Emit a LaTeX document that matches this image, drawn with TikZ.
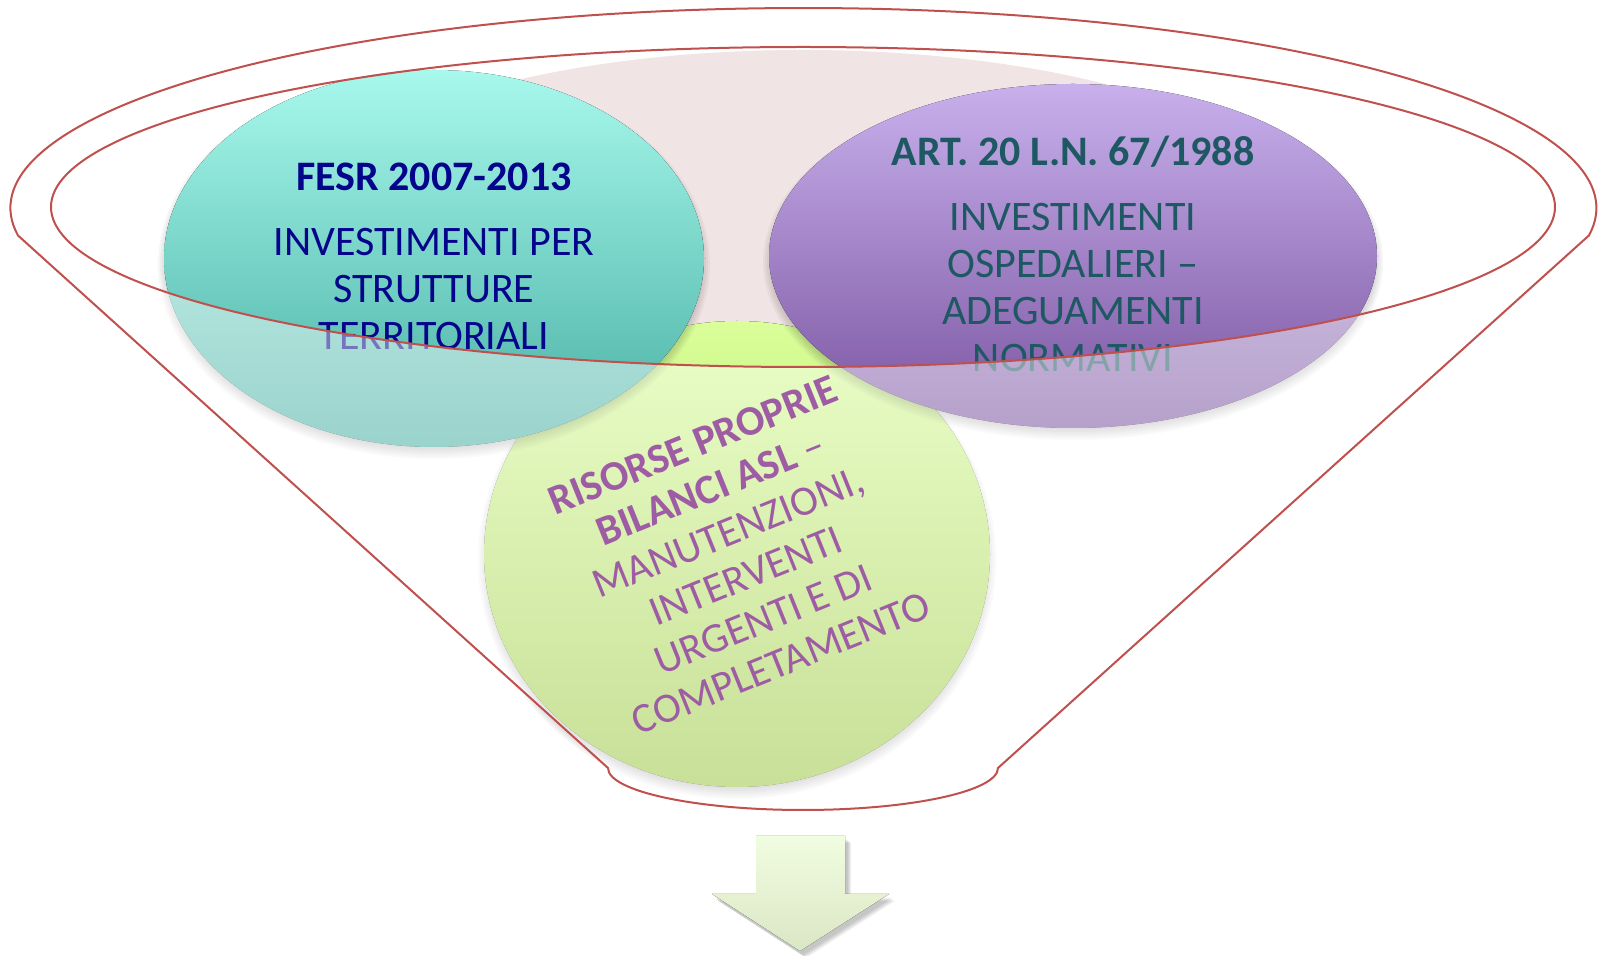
\documentclass[tikz,border=0pt]{standalone}
\usepackage{fontspec}
\setmainfont{Carlito}
\definecolor{funnelred}{RGB}{192,80,77}
\definecolor{pinkbg}{RGB}{241,228,228}
\definecolor{tealtop}{RGB}{168,248,236}
\definecolor{tealbot}{RGB}{72,175,163}
\definecolor{purptop}{RGB}{200,176,236}
\definecolor{purpbot}{RGB}{122,84,160}
\definecolor{greentop}{RGB}{218,255,154}
\definecolor{greenbot}{RGB}{155,199,68}
\definecolor{navytxt}{RGB}{5,5,140}
\definecolor{darkteal}{RGB}{30,88,98}
\definecolor{magtxt}{RGB}{158,92,164}
\definecolor{arrowtop}{RGB}{241,253,224}
\definecolor{arrowbot}{RGB}{218,230,196}
\newcommand\fuzzyshadow[4]{%
  \foreach \k in {0,...,5}{%
    \fill[black,opacity=0.035] (#1,#2+6) ellipse [x radius={#3+6-2*\k}, y radius={#4+6-2*\k}];}}
\begin{document}
\begin{tikzpicture}[x=0.5pt,y=-0.5pt,
  txt/.style={inner sep=0pt, font=\fontsize{21}{23.5}\selectfont},
  tealtxt/.style={txt, text=navytxt},
  purptxt/.style={txt, text=darkteal},
  greentxt/.style={txt, text=magtxt},
  outline/.style={draw=funnelred, line width=1pt}]
\useasboundingbox (0,0) rectangle (1608,956);
\fill[white] (0,0) rectangle (1608,956);
% background pink ellipse
\fill[pinkbg] (803,230) ellipse [x radius=517, y radius=180];
% green circle
\fuzzyshadow{737}{554}{253}{233}
\fill[top color=greentop, bottom color=greenbot] (737,554) ellipse [x radius=253, y radius=233];
% teal circle
\fuzzyshadow{434}{258.5}{270}{188.5}
\fill[top color=tealtop, bottom color=tealbot] (434,258.5) ellipse [x radius=270, y radius=188.5];
% purple circle
\fuzzyshadow{1073}{256}{304}{172}
\fill[top color=purptop, bottom color=purpbot] (1073,256) ellipse [x radius=304, y radius=172];
% texts
\node[tealtxt, font=\fontsize{21}{23.5}\selectfont\bfseries] (fesr) at (434,177) {FESR 2007-2013};
\node[tealtxt, align=center] (fesrbody) at (434,289.5) {INVESTIMENTI PER\\STRUTTURE\\TERRITORIALI};
\node[purptxt, font=\fontsize{21}{23.5}\selectfont\bfseries] (art) at (1073,152) {ART. 20 L.N. 67/1988};
\node[purptxt, align=center] (artbody) at (1073,287.5) {INVESTIMENTI\\OSPEDALIERI –\\ADEGUAMENTI\\NORMATIVI};
% funnel body overlay
\fill[white, opacity=0.45, even odd rule]
  (18,235.5) arc[start angle=172.1, end angle=367.9, x radius=793, y radius=200]
  -- (998,768) arc[start angle=0, end angle=180, x radius=195, y radius=42] -- cycle
  (803,207) ellipse [x radius=752, y radius=160];
% green circle text (in front of the funnel body)
\node[greentxt, align=center, rotate=22] (risorse) at (737,554) {\textbf{RISORSE PROPRIE}\\\textbf{BILANCI ASL} –\\MANUTENZIONI,\\INTERVENTI\\URGENTI E DI\\COMPLETAMENTO};
% funnel outline
\draw[outline, line join=round]
  (18,235.5) arc[start angle=172.1, end angle=367.9, x radius=793, y radius=200]
  -- (998,768) arc[start angle=0, end angle=180, x radius=195, y radius=42] -- cycle;
\draw[outline] (803,207) ellipse [x radius=752, y radius=160];
% result arrow
\foreach \k in {0,...,3}{
  \fill[black, opacity=0.06, shift={(3+\k,4+\k)}]
    (756,836) -- (845,836) -- (845,894) -- (889,894) -- (800,951) -- (712,894) -- (756,894) -- cycle;}
\fill[top color=arrowtop, bottom color=arrowbot]
  (756,836) -- (845,836) -- (845,894) -- (889,894) -- (800,951) -- (712,894) -- (756,894) -- cycle;
\end{tikzpicture}
\end{document}
